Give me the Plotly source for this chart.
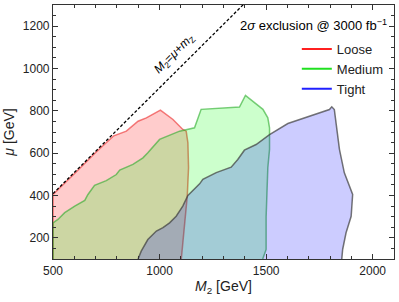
import numpy as np
import plotly.graph_objects as go

# Loose (red) exclusion contour
loose_m2 = [500, 500, 600, 700, 785, 844, 899, 938, 1004, 1063, 1109, 1125, 1133, 1136, 1130, 1102]
loose_mu = [100, 405, 503, 603, 682, 704, 751, 767, 803, 759, 712, 704, 649, 531, 397, 100]

# Medium (green) exclusion contour
medium_m2 = [500, 500, 523, 555, 602, 649, 664, 695, 750, 797, 813, 875, 922, 945, 1000, 1094, 1164,
             1195, 1375, 1403, 1485, 1508, 1516, 1516, 1508, 1503, 1500, 1500, 1484]
medium_mu = [100, 271, 287, 319, 350, 377, 405, 448, 470, 499, 520, 547, 578, 602, 665, 704, 720,
             807, 818, 873, 807, 767, 720, 618, 531, 405, 300, 145, 100]

# Tight (blue) exclusion contour
tight_m2 = [899, 914, 945, 985, 1016, 1047, 1078, 1109, 1133, 1188, 1203, 1266, 1336, 1367, 1398, 1453,
            1516, 1602, 1797, 1808, 1820, 1836, 1844, 1867, 1906, 1899, 1875, 1859, 1855]
tight_mu = [100, 137, 192, 232, 248, 271, 302, 350, 400, 455, 476, 508, 534, 570, 614, 641,
            688, 740, 806, 819, 806, 696, 618, 507, 405, 302, 224, 145, 100]

# Kinematic line M2 = mu + mZ
mZ = 91.19
line_m2 = np.array([500.0, 1400.0])
line_mu = line_m2 - mZ

x_ticks = [500, 1000, 1500, 2000]
y_ticks = [200, 400, 600, 800, 1000, 1200]

fig = go.Figure()

fig.add_trace(go.Scatter(x=loose_m2, y=loose_mu, fill="toself", mode="lines",
                         fillcolor="rgba(255,0,0,0.2)",
                         line=dict(color="rgba(235,40,40,0.6)", width=1.5),
                         showlegend=False, hoverinfo="skip"))
fig.add_trace(go.Scatter(x=medium_m2, y=medium_mu, fill="toself", mode="lines",
                         fillcolor="rgba(0,255,0,0.2)",
                         line=dict(color="rgba(40,170,40,0.6)", width=1.5),
                         showlegend=False, hoverinfo="skip"))
fig.add_trace(go.Scatter(x=tight_m2, y=tight_mu, fill="toself", mode="lines",
                         fillcolor="rgba(0,0,255,0.2)",
                         line=dict(color="rgba(60,60,60,0.7)", width=1.5),
                         showlegend=False, hoverinfo="skip"))

fig.add_trace(go.Scatter(x=line_m2, y=line_mu, mode="lines",
                         line=dict(color="black", width=1.3, dash="3px,2px"),
                         showlegend=False, hoverinfo="skip"))

# legend entries
for name, col in [("Loose", "#ff2020"), ("Medium", "#20e020"), ("Tight", "#2020ff")]:
    fig.add_trace(go.Scatter(x=[None], y=[None], mode="lines", name=name,
                             line=dict(color=col, width=2)))

fig.add_annotation(x=1070, y=1070, xref="x", yref="y",
                   text="<i>M</i><sub>2</sub>=<i>μ</i>+<i>m</i><sub>Z</sub>",
                   showarrow=False, textangle=-45,
                   font=dict(size=12, color="black", family="Liberation Sans"))

fig.add_annotation(x=0.985, y=0.96, xref="paper", yref="paper", xanchor="right", yanchor="top",
                   text="2<i>σ</i> exclusion @ 3000 fb<sup>−1</sup>", showarrow=False,
                   font=dict(size=13, color="black", family="Liberation Sans"))

axis_common = dict(showgrid=False, zeroline=False, showline=True, linecolor="#333333", linewidth=1.2,
                   mirror="ticks", ticks="inside", ticklen=5, tickcolor="#333333", tickwidth=1,
                   automargin=False,
                   tickfont=dict(size=12, color="#222222", family="Liberation Sans"))

fig.update_xaxes(range=[500, 2100], tickvals=x_ticks,
                 minor=dict(dtick=100, ticks="inside", ticklen=3, tickcolor="#333333"),
                 title=dict(text="<i>M</i><sub>2</sub> [GeV]", standoff=4,
                            font=dict(size=14, color="#222222", family="Liberation Sans")),
                 **axis_common)
fig.update_yaxes(range=[100, 1300], tickvals=y_ticks,
                 minor=dict(dtick=50, ticks="inside", ticklen=3, tickcolor="#333333"),
                 title=dict(text="<i>μ</i> [GeV]", standoff=4,
                            font=dict(size=14, color="#222222", family="Liberation Sans")),
                 **axis_common)

fig.update_layout(
    width=399, height=302,
    margin=dict(l=53, r=5, t=5, b=43),
    plot_bgcolor="white", paper_bgcolor="white",
    legend=dict(x=0.715, y=0.886, xanchor="left", yanchor="top",
                bgcolor="rgba(0,0,0,0)", borderwidth=0,
                font=dict(size=13, color="#222222", family="Liberation Sans"),
                itemwidth=30, tracegroupgap=0),
)

fig.write_html("out.html", config={"displayModeBar": False},
               post_script="document.body.style.margin='0';")
